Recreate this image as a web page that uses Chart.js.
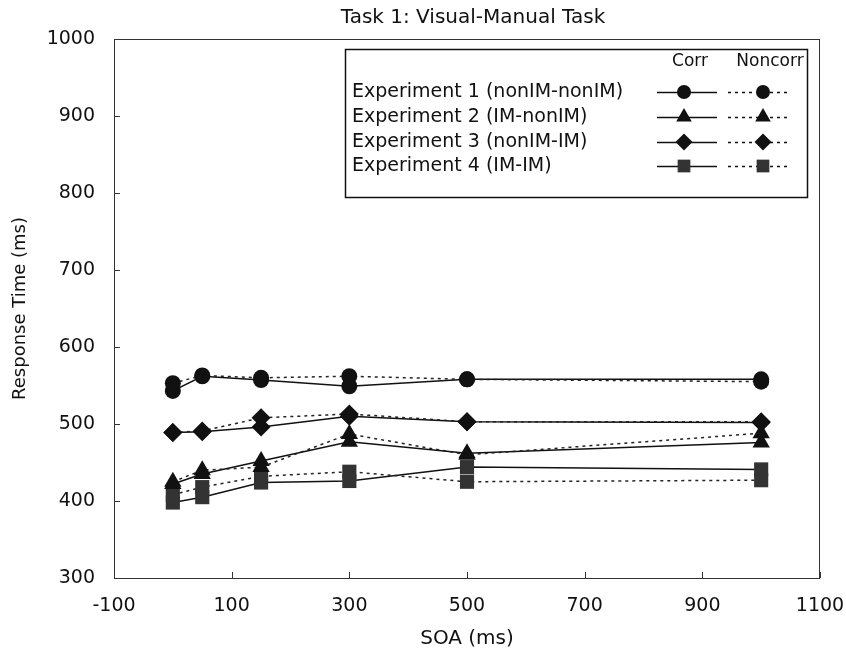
<!DOCTYPE html>
<html>
<head>
<meta charset="utf-8">
<script src="https://cdn.jsdelivr.net/npm/chart.js@4.4.0/dist/chart.umd.min.js"></script>
<style>
  html, body { margin: 0; padding: 0; background: #fff; }
  #wrap { width: 846px; height: 651px; }
</style>
</head>
<body>
<div id="wrap"><canvas id="chart" width="846" height="651"></canvas></div>
<script>
// --- data ---
const soa = [0, 50, 150, 300, 500, 1000];
const expNames = [
  'Experiment 1 (nonIM-nonIM)',
  'Experiment 2 (IM-nonIM)',
  'Experiment 3 (nonIM-IM)',
  'Experiment 4 (IM-IM)'
];
const exp1Corr    = [543, 562, 557, 549, 558, 558];
const exp1Noncorr = [553, 563, 560, 562, 558, 555];
const exp2Corr    = [422, 435, 452, 477, 462, 476];
const exp2Noncorr = [425, 440, 444, 487, 460, 488];
const exp3Corr    = [489, 490, 496, 510, 503, 502];
const exp3Noncorr = [489, 491, 508, 513, 503, 503];
const exp4Corr    = [398, 405, 424, 426, 444, 441];
const exp4Noncorr = [408, 418, 432, 438, 425, 427];
const xTicks = [-100, 100, 300, 500, 700, 900, 1100];
const yTicks = [300, 400, 500, 600, 700, 800, 900, 1000];

const FONT = "'DejaVu Sans', sans-serif";
const markers = ['circle', 'triangle', 'rectRot', 'rect'];
const markerSize = [8, 10, 9.5, 10];
const markerColor = ['#111', '#111', '#111', '#333'];
const corrSets = [exp1Corr, exp2Corr, exp3Corr, exp4Corr];
const noncorrSets = [exp1Noncorr, exp2Noncorr, exp3Noncorr, exp4Noncorr];

function toPoints(vals) {
  return soa.map((x, i) => ({ x: x, y: vals[i] }));
}

const datasets = [];
for (let i = 0; i < 4; i++) {
  datasets.push({
    label: expNames[i] + ' Noncorr',
    data: toPoints(noncorrSets[i]),
    showLine: true,
    borderColor: '#222',
    borderWidth: 1.5,
    borderDash: [3, 4],
    pointStyle: markers[i],
    pointRadius: markerSize[i],
    pointBackgroundColor: markerColor[i],
    pointBorderColor: markerColor[i],
    pointBorderWidth: 0
  });
  datasets.push({
    label: expNames[i] + ' Corr',
    data: toPoints(corrSets[i]),
    showLine: true,
    borderColor: '#111',
    borderWidth: 1.5,
    pointStyle: markers[i],
    pointRadius: markerSize[i],
    pointBackgroundColor: markerColor[i],
    pointBorderColor: markerColor[i],
    pointBorderWidth: 0
  });
}

// frame, inward tick marks, title and the two-column legend
const decorPlugin = {
  id: 'decor',
  afterDraw(chart) {
    const ctx = chart.ctx;
    const a = chart.chartArea;
    const xs = chart.scales.x, ys = chart.scales.y;
    ctx.save();
    ctx.strokeStyle = '#333';
    ctx.lineWidth = 1;
    ctx.strokeRect(a.left + 0.5, a.top + 0.5, a.right - a.left - 1, a.bottom - a.top);
    ctx.beginPath();
    xTicks.forEach(v => {
      const px = Math.round(xs.getPixelForValue(v)) + 0.5;
      ctx.moveTo(px, a.bottom); ctx.lineTo(px, a.bottom - 6);
    });
    yTicks.forEach(v => {
      const py = Math.round(ys.getPixelForValue(v)) + 0.5;
      ctx.moveTo(a.left, py); ctx.lineTo(a.left + 6, py);
    });
    ctx.stroke();

    // title
    ctx.fillStyle = '#111';
    ctx.font = '20px ' + FONT;
    ctx.textAlign = 'center';
    ctx.textBaseline = 'middle';
    ctx.fillText('Task 1: Visual-Manual Task', 473, 18);

    // legend box
    const bx = 345, by = 49, bw = 462, bh = 148;
    ctx.fillStyle = '#fff';
    ctx.fillRect(bx, by, bw, bh);
    ctx.lineWidth = 1.5;
    ctx.strokeStyle = '#111';
    ctx.strokeRect(bx + 0.5, by + 0.5, bw, bh);
    ctx.fillStyle = '#111';
    ctx.font = '17px ' + FONT;
    ctx.fillText('Corr', 690, 62);
    ctx.fillText('Noncorr', 770, 62);
    ctx.font = '19px ' + FONT;
    ctx.textAlign = 'left';
    const rowY = [92, 117, 142, 166];
    for (let i = 0; i < 4; i++) {
      const y = rowY[i];
      ctx.fillStyle = '#111';
      ctx.fillText(expNames[i], 352, y);
      ctx.lineWidth = 1.5;
      ctx.strokeStyle = '#111';
      ctx.setLineDash([]);
      ctx.beginPath(); ctx.moveTo(657, y + 0.5); ctx.lineTo(717, y + 0.5); ctx.stroke();
      ctx.setLineDash([3, 4]);
      ctx.beginPath(); ctx.moveTo(728, y + 0.5); ctx.lineTo(788, y + 0.5); ctx.stroke();
      ctx.setLineDash([]);
      ctx.fillStyle = markerColor[i];
      ctx.strokeStyle = markerColor[i];
      const r = markerSize[i] - 1;
      Chart.helpers.drawPoint(ctx, { pointStyle: markers[i], radius: r, borderWidth: 0 }, 684, y);
      Chart.helpers.drawPoint(ctx, { pointStyle: markers[i], radius: r, borderWidth: 0 }, 763, y);
    }
    ctx.restore();
  }
};

new Chart(document.getElementById('chart').getContext('2d'), {
  type: 'scatter',
  data: { datasets: datasets },
  plugins: [decorPlugin],
  options: {
    responsive: false,
    animation: false,
    layout: { padding: { top: 39, right: 26, left: 0, bottom: 0 } },
    plugins: {
      legend: { display: false },
      title: { display: false },
      tooltip: { enabled: false }
    },
    scales: {
      x: {
        type: 'linear',
        min: -100, max: 1100,
        afterBuildTicks: s => { s.ticks = xTicks.map(v => ({ value: v })); },
        afterFit: s => { s.height = 73; s.paddingRight = 0; s.paddingLeft = 0; },
        grid: { display: false, drawTicks: false },
        border: { display: false },
        ticks: { color: '#111', font: { family: FONT, size: 19 }, padding: 17, maxRotation: 0,
                 callback: v => String(v) },
        title: { display: true, text: 'SOA (ms)', color: '#111', font: { family: FONT, size: 20 }, padding: { top: 0, bottom: 0 } }
      },
      y: {
        type: 'linear',
        min: 300, max: 1000,
        afterBuildTicks: s => { s.ticks = yTicks.map(v => ({ value: v })); },
        afterFit: s => { s.width = 114; s.paddingTop = 0; s.paddingBottom = 0; },
        grid: { display: false, drawTicks: false },
        border: { display: false },
        ticks: { color: '#111', font: { family: FONT, size: 19 }, padding: 19,
                 callback: v => String(v) },
        title: { display: true, text: 'Response Time (ms)', color: '#111', font: { family: FONT, size: 18 }, padding: { top: 10, bottom: 0 } }
      }
    }
  }
});
</script>
</body>
</html>
